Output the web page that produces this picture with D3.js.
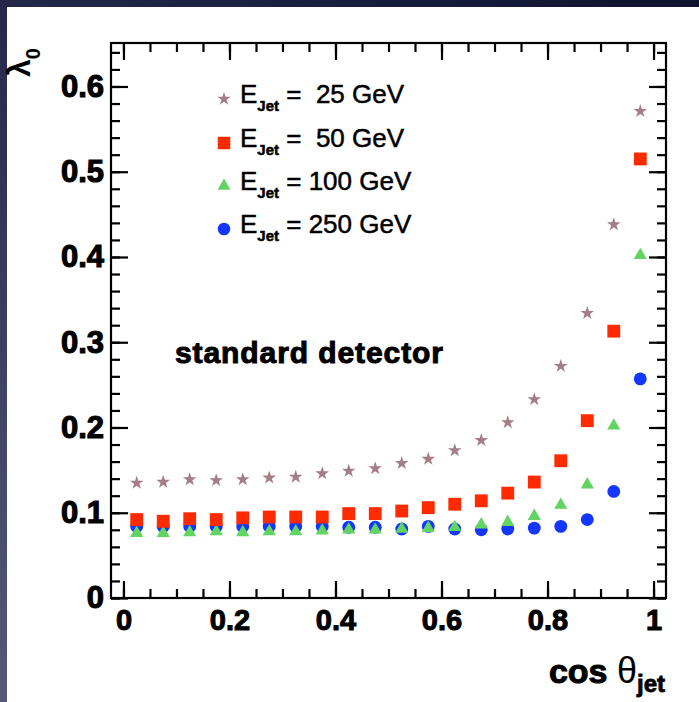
<!DOCTYPE html>
<html><head><meta charset="utf-8">
<script src="https://cdn.jsdelivr.net/npm/d3@7"></script>
<style>html,body{margin:0;padding:0;background:#fff;overflow:hidden}</style>
</head><body><svg id="c" width="699" height="702"></svg>
<script>
// ---- data ----
const cosTheta = [0.025, 0.075, 0.125, 0.175, 0.225, 0.275, 0.325, 0.375, 0.425, 0.475,
                  0.525, 0.575, 0.625, 0.675, 0.725, 0.775, 0.825, 0.875, 0.925, 0.975];
const lambda25  = [0.135, 0.136, 0.139, 0.138, 0.139, 0.141, 0.142, 0.146, 0.149, 0.152,
                   0.158, 0.163, 0.173, 0.185, 0.206, 0.233, 0.272, 0.334, 0.438, 0.571];
const lambda50  = [0.092, 0.090, 0.093, 0.092, 0.094, 0.095, 0.095, 0.095, 0.099, 0.099,
                   0.102, 0.106, 0.110, 0.114, 0.123, 0.136, 0.161, 0.208, 0.313, 0.515];
const lambda100 = [0.076, 0.076, 0.077, 0.078, 0.077, 0.078, 0.078, 0.079, 0.080, 0.080,
                   0.081, 0.082, 0.083, 0.086, 0.089, 0.096, 0.109, 0.133, 0.202, 0.402];
const lambda250 = [0.084, 0.084, 0.084, 0.084, 0.084, 0.084, 0.084, 0.084, 0.083, 0.083,
                   0.081, 0.084, 0.081, 0.080, 0.081, 0.082, 0.084, 0.092, 0.125, 0.257];
const seriesNames = ["25", "50", "100", "250"];
const legendValues = [" =  25 GeV", " =  50 GeV", " = 100 GeV", " = 250 GeV"];
const xTickValues = [0, 0.2, 0.4, 0.6, 0.8, 1.0];
const xTickLabels = ["0", "0.2", "0.4", "0.6", "0.8", "1"];
const yTickValues = [0, 0.1, 0.2, 0.3, 0.4, 0.5, 0.6];
const yTickLabels = ["0", "0.1", "0.2", "0.3", "0.4", "0.5", "0.6"];
const xMinorTicks = d3.range(0, 21).map(i => i * 0.05);
const yMinorTicks = d3.range(0, 33).map(i => i * 0.02);

// ---- layout ----
const W = 699, H = 702;
const L = 111, R = 666, T = 43, B = 598;
const FONT = "'Liberation Sans', Arial, Helvetica, sans-serif";

const svg = d3.select("#c");
const defs = svg.append("defs");
const grad = defs.append("linearGradient").attr("id", "bg")
  .attr("x1", "1").attr("y1", "0").attr("x2", "0").attr("y2", "1");
grad.append("stop").attr("offset", "0").attr("stop-color", "#0f1230");
grad.append("stop").attr("offset", "0.5").attr("stop-color", "#23284a");
grad.append("stop").attr("offset", "1").attr("stop-color", "#545a78");
svg.append("rect").attr("width", W).attr("height", H).attr("fill", "url(#bg)");
svg.append("rect").attr("x", 7).attr("y", 7).attr("width", W - 7).attr("height", H - 7).attr("fill", "#ffffff");

const x = d3.scaleLinear().domain([-0.0235, 1.0235]).range([L, R]);
const y = d3.scaleLinear().domain([0, 0.651]).range([B, T]);

function styleAxis(g) {
  g.select(".domain").remove();
  g.selectAll("line").attr("stroke", "#000").attr("stroke-width", 2.2);
}

// bottom axis
svg.append("g").attr("transform", `translate(0,${B})`)
  .call(d3.axisBottom(x).tickValues(xMinorTicks).tickSize(-9).tickSizeOuter(0).tickFormat(""))
  .call(styleAxis);
const gxb = svg.append("g").attr("transform", `translate(0,${B})`)
  .call(d3.axisBottom(x).tickValues(xTickValues).tickSize(-17).tickSizeOuter(0).tickPadding(11)
        .tickFormat((d, i) => xTickLabels[i]))
  .call(styleAxis);
gxb.attr("font-family", FONT).attr("font-size", 29).attr("font-weight", "bold");
gxb.selectAll("text").attr("fill", "#000").attr("stroke", "#000").attr("stroke-width", 1);

// top axis
svg.append("g").attr("transform", `translate(0,${T})`)
  .call(d3.axisTop(x).tickValues(xMinorTicks).tickSize(-9).tickSizeOuter(0).tickFormat(""))
  .call(styleAxis);
svg.append("g").attr("transform", `translate(0,${T})`)
  .call(d3.axisTop(x).tickValues(xTickValues).tickSize(-17).tickSizeOuter(0).tickFormat(""))
  .call(styleAxis);

// left axis
svg.append("g").attr("transform", `translate(${L},0)`)
  .call(d3.axisLeft(y).tickValues(yMinorTicks).tickSize(-9).tickSizeOuter(0).tickFormat(""))
  .call(styleAxis);
const gyl = svg.append("g").attr("transform", `translate(${L},0)`)
  .call(d3.axisLeft(y).tickValues(yTickValues).tickSize(-17).tickSizeOuter(0).tickPadding(7)
        .tickFormat((d, i) => yTickLabels[i]))
  .call(styleAxis);
gyl.attr("font-family", FONT).attr("font-size", 31).attr("font-weight", "bold");
gyl.selectAll("text").attr("fill", "#000").attr("stroke", "#000").attr("stroke-width", 1.1);

// right axis
svg.append("g").attr("transform", `translate(${R},0)`)
  .call(d3.axisRight(y).tickValues(yMinorTicks).tickSize(-9).tickSizeOuter(0).tickFormat(""))
  .call(styleAxis);
svg.append("g").attr("transform", `translate(${R},0)`)
  .call(d3.axisRight(y).tickValues(yTickValues).tickSize(-17).tickSizeOuter(0).tickFormat(""))
  .call(styleAxis);

// frame
svg.append("rect").attr("x", L).attr("y", T).attr("width", R - L).attr("height", B - T)
  .attr("fill", "none").attr("stroke", "#000").attr("stroke-width", 2.2);

// ---- series ----
const series = [
  {vals: lambda250, color: "#1436ff", sym: d3.symbolCircle,   size: 130},
  {vals: lambda100, color: "#62d462", sym: d3.symbolTriangle, size: 75},
  {vals: lambda50,  color: "#ff2a00", sym: d3.symbolSquare,   size: 165},
  {vals: lambda25,  color: "#a47d86", sym: d3.symbolStar,     size: 58}
];
series.forEach(s => {
  svg.append("g").selectAll("path").data(cosTheta).join("path")
    .attr("transform", (d, i) => `translate(${x(d)},${y(s.vals[i])})`)
    .attr("d", d3.symbol().type(s.sym).size(s.size))
    .attr("fill", s.color);
});

// ---- legend ----
const legendOrder = [3, 2, 1, 0];
const legRowY = [99, 143, 186, 229];
legendOrder.forEach((si, r) => {
  const s = series[si];
  svg.append("path").attr("transform", `translate(224,${legRowY[r]})`)
    .attr("d", d3.symbol().type(s.sym).size(s.size * 0.95)).attr("fill", s.color);
  const t = svg.append("text").attr("x", 240).attr("y", legRowY[r] + 4)
    .attr("font-family", FONT).attr("font-size", 26).attr("fill", "#000")
    .attr("stroke", "#000").attr("stroke-width", 0.5)
    .style("white-space", "pre");
  t.append("tspan").text("E");
  t.append("tspan").attr("font-size", 15).attr("font-weight", "bold").attr("dy", 8).text("Jet");
  t.append("tspan").attr("dy", -8).text(legendValues[r]);
});

// ---- annotation ----
svg.append("text").attr("x", 175).attr("y", 363)
  .attr("font-family", FONT).attr("font-size", 30).attr("font-weight", "bold")
  .attr("stroke", "#000").attr("stroke-width", 1)
  .attr("textLength", 268).attr("lengthAdjust", "spacing")
  .text("standard detector");

// ---- axis titles ----
const xt = svg.append("text").attr("x", 665).attr("y", 683).attr("text-anchor", "end")
  .attr("font-family", FONT).attr("font-size", 34).attr("font-weight", "bold")
  .style("white-space", "pre");
xt.append("tspan").attr("stroke", "#000").attr("stroke-width", 1).text("cos ");
xt.append("tspan").attr("font-weight", "normal").attr("font-size", 36).text("θ");
xt.append("tspan").attr("font-size", 24).attr("dy", 9).attr("stroke", "#000").attr("stroke-width", 0.8).text("jet");

const yt = svg.append("text").attr("transform", "translate(30,77) rotate(-90)")
  .attr("font-family", FONT).attr("font-size", 32).attr("font-weight", "bold");
yt.append("tspan").text("λ");
yt.append("tspan").attr("font-size", 20).attr("dy", 10).text("0");
</script>
</body></html>
